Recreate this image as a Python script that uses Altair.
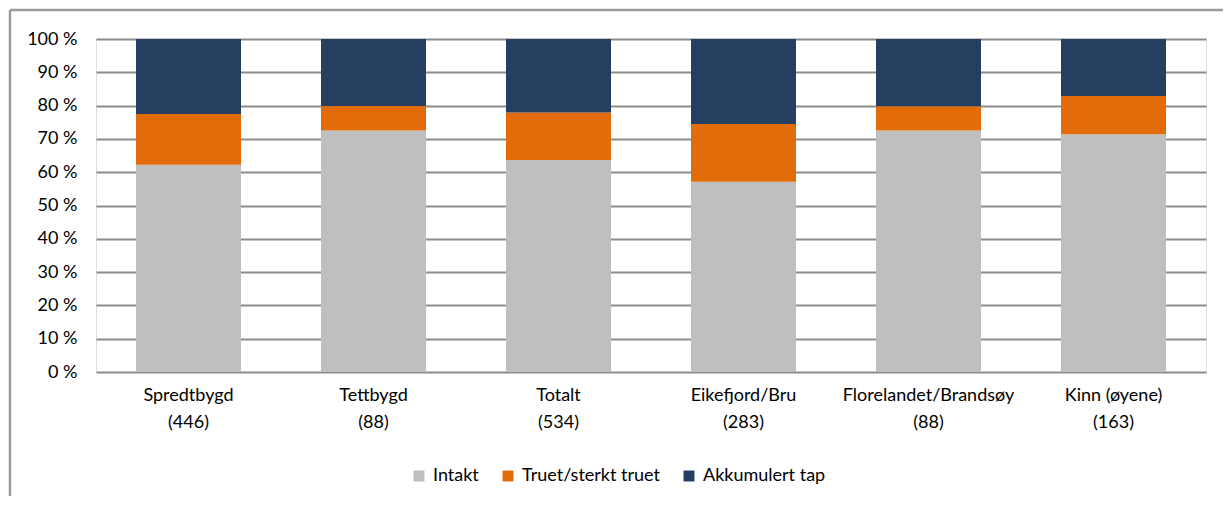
import altair as alt
import pandas as pd

categories = ["Spredtbygd|(446)", "Tettbygd|(88)", "Totalt|(534)",
              "Eikefjord/Bru|(283)", "Florelandet/Brandsøy|(88)", "Kinn (øyene)|(163)"]
series = ["Intakt", "Truet/sterkt truet", "Akkumulert tap"]
intakt = [62.2, 72.5, 63.7, 57.1, 72.5, 71.4]
truet = [15.3, 7.4, 14.2, 17.4, 7.3, 11.5]
akkumulert = [22.5, 20.1, 22.1, 25.5, 20.2, 17.1]
colors = ["#BFBFBF", "#E36C0A", "#243F60"]

rows = []
for s_i, (name, vals) in enumerate(zip(series, [intakt, truet, akkumulert])):
    for c, v in zip(categories, vals):
        rows.append({"cat": c, "serie": name, "verdi": v, "ordre": s_i})
df = pd.DataFrame(rows)

FONT = "Lato"

bars = alt.Chart(df).mark_bar(size=105).encode(
    x=alt.X("cat:N", sort=categories, title=None,
            scale=alt.Scale(paddingInner=0.43, paddingOuter=0.215),
            axis=alt.Axis(labelExpr="split(datum.label, '|')", labelAngle=0,
                          labelFont=FONT, labelFontSize=18, labelColor="#000000",
                          labelPadding=14, labelLineHeight=27, ticks=False,
                          domain=False, grid=False, labelBaseline="top")),
    y=alt.Y("verdi:Q", stack="normalize", title=None,
            scale=alt.Scale(domain=[0, 1], nice=False),
            axis=alt.Axis(format=".0%", values=[i / 10 for i in range(11)],
                          labelExpr="replace(datum.label, '%', ' %')",
                          labelFont=FONT, labelFontSize=18, labelColor="#000000",
                          labelPadding=19, ticks=False, domain=False,
                          grid=True, gridColor="#8C8C8C", gridWidth=2)),
    color=alt.Color("serie:N", sort=series,
                    scale=alt.Scale(domain=series, range=colors),
                    legend=alt.Legend(title=None, orient="none", direction="horizontal",
                                      legendX=314, legendY=428, columns=3,
                                      symbolType="square", symbolSize=120,
                                      symbolStrokeWidth=0, symbolOffset=0,
                                      labelFont=FONT, labelFontSize=18,
                                      labelColor="#000000", labelOffset=5,
                                      columnPadding=20)),
    order=alt.Order("ordre:Q", sort="ascending"),
)

frame_top = alt.Chart(pd.DataFrame({"a": [0]})).mark_rule(
    color="#9A9A9A", strokeWidth=2.5, clip=False).encode(
    x=alt.value(-86), x2=alt.value(1140), y=alt.value(-29))
frame_left = alt.Chart(pd.DataFrame({"a": [0]})).mark_rule(
    color="#9A9A9A", strokeWidth=2.5, clip=False).encode(
    x=alt.value(-86), y=alt.value(-29), y2=alt.value(520))

chart = alt.layer(bars, frame_top, frame_left).properties(
    width=1110, height=333,
    autosize=alt.AutoSizeParams(type="none"),
    padding={"left": 88, "top": 31, "right": 17, "bottom": 124},
).configure_view(stroke=None).configure(background="white")

chart.save("out.html", embed_options={"renderer": "svg", "actions": False})
